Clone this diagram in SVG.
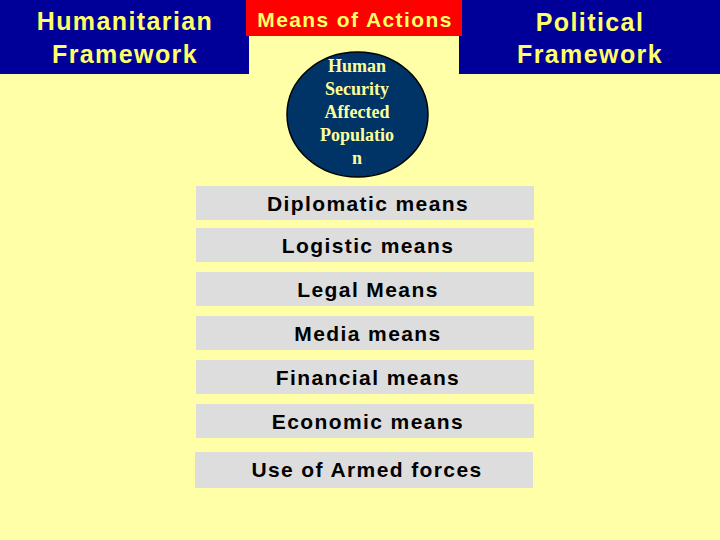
<svg xmlns="http://www.w3.org/2000/svg" width="720" height="540" viewBox="0 0 720 540">
<style>
.hdr{font-family:"Liberation Sans",Arial,sans-serif;font-weight:bold;font-size:25px;fill:#FFFF66;text-anchor:middle;letter-spacing:1.4px}
.bar{fill:#DDDDDD}
.bt{font-family:"Liberation Sans",Arial,sans-serif;font-weight:bold;font-size:21px;fill:#000;text-anchor:middle;letter-spacing:1.4px}
.ct{font-family:"Liberation Serif","Times New Roman",serif;font-weight:bold;font-size:18px;fill:#FFFF99;text-anchor:middle}
</style>
<rect x="0" y="0" width="720" height="540" fill="#FFFFA8"/>
<g id="humanitarian">
<rect x="0" y="0" width="249" height="74" fill="#000099"/>
<text class="hdr" x="125" y="30">Humanitarian</text>
<text class="hdr" x="125" y="63">Framework</text>
</g>
<g id="political">
<rect x="459" y="0" width="261" height="74" fill="#000099"/>
<text class="hdr" x="590" y="31">Political</text>
<text class="hdr" x="590" y="63">Framework</text>
</g>
<g id="means">
<rect x="246" y="0" width="216" height="36" fill="#FF0000"/>
<text class="hdr" x="355" y="27" style="font-size:21px;letter-spacing:1.4px">Means of Actions</text>
</g>
<g id="population">
<ellipse cx="357.5" cy="114.5" rx="70.5" ry="62.5" fill="#003366" stroke="#000" stroke-width="1.5"/>
<text class="ct" x="357" y="72">Human</text>
<text class="ct" x="357" y="95">Security</text>
<text class="ct" x="357" y="118">Affected</text>
<text class="ct" x="357" y="141">Populatio</text>
<text class="ct" x="357" y="164">n</text>
</g>
<g id="diplomatic"><rect class="bar" x="196" y="186" width="338" height="34"/><text class="bt" x="368" y="211">Diplomatic means</text></g>
<g id="logistic"><rect class="bar" x="196" y="228" width="338" height="34"/><text class="bt" x="368" y="253">Logistic means</text></g>
<g id="legal"><rect class="bar" x="196" y="272" width="338" height="34"/><text class="bt" x="368" y="297">Legal Means</text></g>
<g id="media"><rect class="bar" x="196" y="316" width="338" height="34"/><text class="bt" x="368" y="341">Media means</text></g>
<g id="financial"><rect class="bar" x="196" y="360" width="338" height="34"/><text class="bt" x="368" y="385">Financial means</text></g>
<g id="economic"><rect class="bar" x="196" y="404" width="338" height="34"/><text class="bt" x="368" y="429">Economic means</text></g>
<g id="armed"><rect class="bar" x="195" y="452" width="338" height="36"/><text class="bt" x="367" y="477">Use of Armed forces</text></g>
</svg>
